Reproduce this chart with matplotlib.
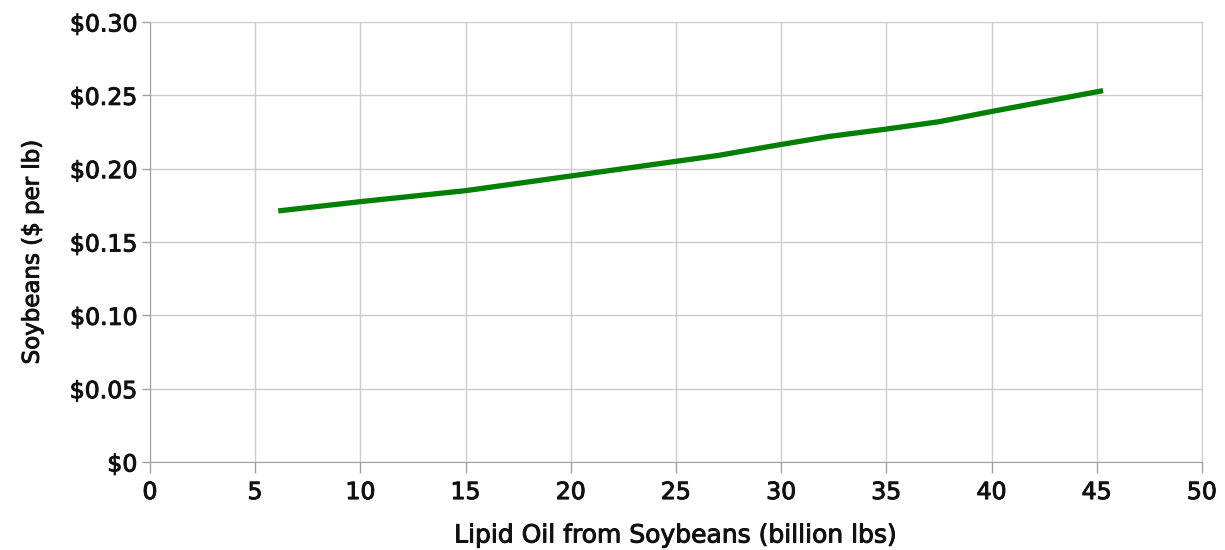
import matplotlib
matplotlib.use("Agg")
import matplotlib.pyplot as plt
import matplotlib.patheffects as pe
from matplotlib.ticker import FuncFormatter

# lipid oil supply (billion lbs) vs soybean price ($ per lb)
oil_supply = [6.1, 10, 15, 17, 20, 25, 27, 30, 32.3, 35, 37.5, 40, 45.3]
soy_price = [0.1712, 0.1775, 0.185, 0.189, 0.195, 0.205, 0.209, 0.2165, 0.222, 0.227, 0.232, 0.239, 0.2532]

x_ticks = [0, 5, 10, 15, 20, 25, 30, 35, 40, 45, 50]
y_ticks = [0, 0.05, 0.10, 0.15, 0.20, 0.25, 0.30]

plt.rcParams['font.family'] = ['DejaVu Sans']

fig = plt.figure(figsize=(12.25, 5.5), dpi=100)
ax = fig.add_axes([0.1224, 0.16, 0.8588, 0.80])

ax.plot(oil_supply, soy_price, color="#007f00", linewidth=3.8, solid_capstyle="butt")

ax.set_xlim(0, 50)
ax.set_ylim(0, 0.30)
ax.set_xticks(x_ticks)
ax.set_yticks(y_ticks)

def money(v, pos):
    if abs(v) < 1e-9:
        return "$0"
    return "${:.2f}".format(v)

ax.yaxis.set_major_formatter(FuncFormatter(money))
ax.tick_params(axis="both", labelsize=17, width=1, color="#a0a0a0", labelcolor="#111111")
ax.tick_params(axis="x", length=8, pad=5)
ax.tick_params(axis="y", length=6, pad=3)

ax.grid(True, color="#cccccc", linewidth=1)
ax.set_axisbelow(True)
for side in ["top", "right"]:
    ax.spines[side].set_color("#cccccc")
for side in ["left", "bottom"]:
    ax.spines[side].set_color("#a0a0a0")

ax.set_xlabel("Lipid Oil from Soybeans (billion lbs)", fontsize=18, color="#111111", labelpad=14)
ax.set_ylabel("Soybeans ($ per lb)", fontsize=16.5, color="#111111")
ax.yaxis.set_label_coords(-0.101, 0.477)

# slightly heavier text strokes
thicken = [pe.withStroke(linewidth=0.7, foreground="#111111")]
for t in ax.get_xticklabels() + ax.get_yticklabels() + [ax.xaxis.label, ax.yaxis.label]:
    t.set_path_effects(thicken)

fig.savefig("out.png", dpi=100)
